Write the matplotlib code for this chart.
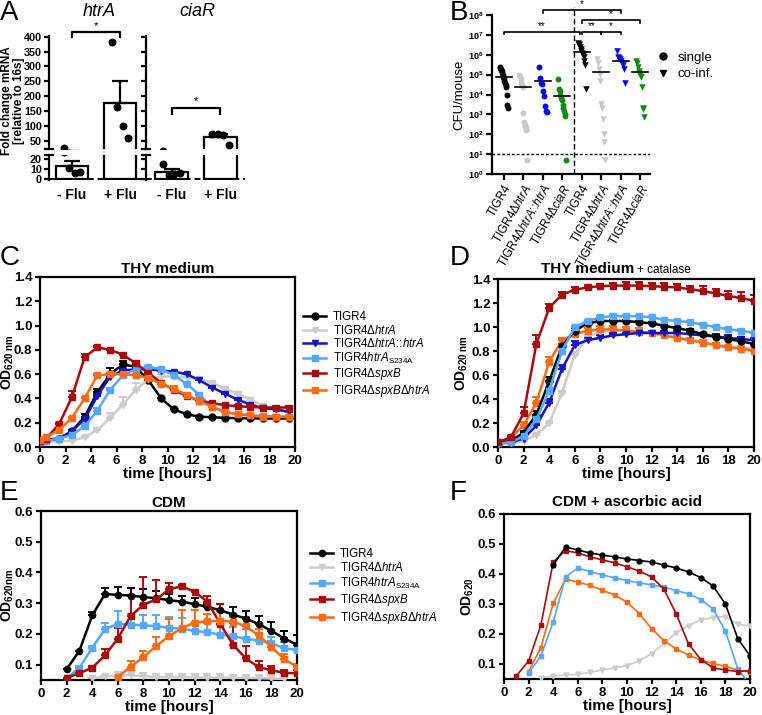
import numpy as np
import matplotlib
matplotlib.use('Agg')
import matplotlib.pyplot as plt
from matplotlib.lines import Line2D

plt.rcParams['font.family'] = ['Liberation Sans', 'DejaVu Sans']
plt.rcParams['mathtext.fontset'] = 'custom'
plt.rcParams['mathtext.rm'] = 'Liberation Sans'
plt.rcParams['mathtext.it'] = 'Liberation Sans:italic'
plt.rcParams['mathtext.bf'] = 'Liberation Sans:bold'

# ---------------- data ----------------
# panel A: fold change mRNA
a_groups = ['- Flu', '+ Flu']
htra_points = [[27, 11, 6, 7], [383, 165, 101, 60]]
htra_mean = [12.75, 177]
htra_sem = [4.8, 73]
ciar_points = [[15, 4, 5, 6], [74, 73, 70, 36]]
ciar_mean = [7.5, 63]
ciar_sem = [2.5, 9]

# panel B: CFU/mouse
b_labels = ['TIGR4', 'TIGR4Δ$\\it{htrA}$', 'TIGR4Δ$\\it{htrA}$::$\\it{htrA}$', 'TIGR4Δ$\\it{ciaR}$',
            'TIGR4', 'TIGR4Δ$\\it{htrA}$', 'TIGR4Δ$\\it{htrA}$::$\\it{htrA}$', 'TIGR4Δ$\\it{ciaR}$']
b_single_tigr4 = [2.5e5, 2.2e5, 2e5, 1.8e5, 1.5e5, 1.2e5, 1e5, 8e4, 6e4, 5e4, 4e4, 3e4, 2.5e4, 1e4, 3e3, 2e3]
b_single_htra = [1e5, 9e4, 6e4, 4e4, 3e4, 2.5e4, 1.2e3, 4e2, 3e2, 2.5e2, 2e2, 1.7e2, 5]
b_single_comp = [2.5e5, 7e4, 4e4, 3.5e4, 1.5e4, 8e3, 2.5e3, 1.5e3, 1.3e3]
b_single_ciar = [6e4, 2e4, 1.5e4, 1e4, 7e3, 5e3, 3e3, 2e3, 1.5e3, 1e3, 8e2, 5]
b_coinf_tigr4 = [4e6, 3.5e6, 3e6, 2.5e6, 2e6, 1.5e6, 1.2e6, 1e6, 8e5, 5e5, 3e5, 2e4]
b_coinf_htra = [6e5, 4e5, 2e5, 1e5, 5e4, 3.5e3, 2e3, 6e2, 1e2, 4e1, 5]
b_coinf_comp = [1.5e6, 8e5, 7e5, 6e5, 5e5, 4e5, 3e5, 2e5, 4e4]
b_coinf_ciar = [5e5, 4e5, 2.5e5, 1.5e5, 1.2e5, 1e5, 8e4, 2.5e4, 2e3, 1.8e3, 7e2]
b_medians = [7.3e4, 2.3e4, 4.6e4, 8.7e3, 1.3e6, 1.4e5, 4.8e5, 1.3e5]
b_detection = 10
b_sig = [(0, 3.9, 10**7.15, '**'), (4, 5, 10**7.15, '**'), (5, 6, 10**7.15, '*'),
         (4, 7, 10**7.73, '*'), (2, 6, 10**8.23, '*')]

# strain names
n_tigr4 = 'TIGR4'
n_htra = 'TIGR4Δ$\\it{htrA}$'
n_comp = 'TIGR4Δ$\\it{htrA}$::$\\it{htrA}$'
n_s234a = 'TIGR4$\\it{htrA}$$_{\\rm S234A}$'
n_spxb = 'TIGR4Δ$\\it{spxB}$'
n_spxb_htra = 'TIGR4Δ$\\it{spxB}$Δ$\\it{htrA}$'

# panel C: THY medium
c_time = [0, 0.5, 1.5, 2.5, 3.5, 4.5, 5.5, 6.5, 7.5, 8.5, 9.5, 10.5, 11.5, 12.5, 13.5, 14.5, 15.5, 16.5, 17.5, 18.5, 19.5]
c_tigr4 = [0.05, 0.06, 0.07, 0.13, 0.25, 0.45, 0.60, 0.68, 0.66, 0.55, 0.40, 0.31, 0.27, 0.25, 0.245, 0.24, 0.237, 0.236, 0.235, 0.235, 0.235]
c_tigr4_err = [0, 0, 0, 0.01, 0.02, 0.03, 0.05, 0.03, 0.02, 0.01, 0, 0, 0, 0, 0, 0, 0, 0, 0, 0, 0]
c_htra = [0.04, 0.04, 0.05, 0.05, 0.08, 0.14, 0.24, 0.35, 0.47, 0.56, 0.58, 0.58, 0.57, 0.56, 0.53, 0.48, 0.44, 0.39, 0.34, 0.31, 0.29]
c_htra_err = [0, 0, 0, 0, 0.01, 0.02, 0.04, 0.06, 0.06, 0.03, 0.02, 0.01, 0.01, 0.01, 0.01, 0.01, 0.01, 0.01, 0.01, 0.01, 0.01]
c_comp = [0.03, 0.05, 0.07, 0.13, 0.23, 0.42, 0.58, 0.63, 0.64, 0.64, 0.63, 0.62, 0.60, 0.55, 0.49, 0.44, 0.39, 0.35, 0.32, 0.31, 0.29]
c_comp_err = [0, 0, 0, 0.01, 0.01, 0.02, 0.02, 0.01, 0.01, 0.01, 0.01, 0.01, 0.01, 0.01, 0.01, 0.01, 0.01, 0.01, 0.01, 0.01, 0.01]
c_s234a = [0.04, 0.05, 0.07, 0.10, 0.17, 0.30, 0.47, 0.59, 0.64, 0.66, 0.64, 0.59, 0.52, 0.43, 0.33, 0.29, 0.27, 0.26, 0.255, 0.25, 0.25]
c_s234a_err = [0, 0, 0, 0.01, 0.01, 0.02, 0.02, 0.02, 0.01, 0.01, 0.01, 0.01, 0.01, 0.01, 0.01, 0.01, 0.01, 0.01, 0.01, 0.01, 0.01]
c_spxb = [0.05, 0.07, 0.19, 0.41, 0.74, 0.82, 0.80, 0.76, 0.69, 0.61, 0.53, 0.47, 0.42, 0.38, 0.36, 0.345, 0.335, 0.33, 0.325, 0.325, 0.325]
c_spxb_err = [0, 0, 0.01, 0.05, 0.03, 0.01, 0.01, 0.01, 0.01, 0.01, 0.01, 0.01, 0.01, 0.01, 0.01, 0.01, 0.01, 0.01, 0.01, 0.01, 0.01]
c_spxb_htra = [0.06, 0.08, 0.14, 0.24, 0.40, 0.59, 0.60, 0.60, 0.59, 0.57, 0.52, 0.48, 0.43, 0.38, 0.33, 0.29, 0.27, 0.26, 0.25, 0.25, 0.245]
c_spxb_htra_err = [0, 0, 0, 0.01, 0.01, 0.01, 0.01, 0.01, 0.01, 0.01, 0.01, 0.02, 0.01, 0.01, 0.01, 0.01, 0.01, 0.01, 0.01, 0.01, 0.01]

# panel D: THY medium + catalase
d_time = list(range(21))
d_tigr4 = [0.03, 0.05, 0.12, 0.27, 0.55, 0.84, 0.97, 1.03, 1.05, 1.05, 1.05, 1.04, 1.03, 1.01, 0.99, 0.97, 0.94, 0.92, 0.90, 0.88, 0.86]
d_tigr4_err = [0, 0.01, 0.01, 0.03, 0.03, 0.02, 0.02, 0.01, 0.01, 0.01, 0.01, 0.01, 0.01, 0.01, 0.01, 0.01, 0.01, 0.01, 0.01, 0.01, 0.01]
d_htra = [0.02, 0.03, 0.05, 0.10, 0.20, 0.45, 0.77, 0.92, 0.96, 0.97, 0.97, 0.96, 0.95, 0.93, 0.91, 0.89, 0.87, 0.85, 0.84, 0.83, 0.82]
d_htra_err = [0, 0, 0, 0.01, 0.01, 0.02, 0.02, 0.01, 0.01, 0.01, 0.01, 0.01, 0.01, 0.01, 0.01, 0.01, 0.01, 0.01, 0.01, 0.01, 0.01]
d_comp = [0.03, 0.04, 0.07, 0.18, 0.37, 0.65, 0.85, 0.89, 0.91, 0.93, 0.94, 0.95, 0.95, 0.95, 0.95, 0.94, 0.93, 0.92, 0.91, 0.90, 0.89]
d_comp_err = [0, 0, 0.01, 0.02, 0.03, 0.03, 0.03, 0.02, 0.02, 0.02, 0.02, 0.02, 0.02, 0.02, 0.02, 0.02, 0.02, 0.02, 0.02, 0.02, 0.02]
d_s234a = [0.03, 0.04, 0.09, 0.23, 0.47, 0.80, 1.00, 1.05, 1.08, 1.09, 1.09, 1.09, 1.08, 1.06, 1.05, 1.04, 1.02, 1.00, 0.98, 0.97, 0.95]
d_s234a_err = [0, 0, 0.01, 0.02, 0.03, 0.03, 0.01, 0.01, 0.01, 0.01, 0.01, 0.01, 0.01, 0.01, 0.01, 0.01, 0.01, 0.01, 0.01, 0.01, 0.01]
d_spxb = [0.04, 0.08, 0.28, 0.86, 1.16, 1.27, 1.31, 1.33, 1.34, 1.345, 1.345, 1.345, 1.34, 1.335, 1.33, 1.315, 1.30, 1.28, 1.26, 1.24, 1.22]
d_spxb_err = [0, 0.01, 0.05, 0.07, 0.03, 0.02, 0.02, 0.02, 0.02, 0.02, 0.03, 0.03, 0.03, 0.03, 0.03, 0.03, 0.04, 0.04, 0.04, 0.05, 0.05]
d_spxb_htra = [0.04, 0.08, 0.18, 0.37, 0.71, 0.89, 0.94, 0.97, 0.98, 0.98, 0.97, 0.96, 0.95, 0.93, 0.91, 0.89, 0.87, 0.85, 0.83, 0.82, 0.80]
d_spxb_htra_err = [0, 0.01, 0.03, 0.05, 0.04, 0.02, 0.02, 0.02, 0.03, 0.03, 0.03, 0.03, 0.02, 0.02, 0.02, 0.02, 0.02, 0.02, 0.02, 0.02, 0.02]

# panel E: CDM
e_time = list(range(2, 21))
e_tigr4 = [0.085, 0.145, 0.26, 0.33, 0.327, 0.325, 0.32, 0.316, 0.31, 0.305, 0.297, 0.288, 0.277, 0.263, 0.25, 0.232, 0.21, 0.185, 0.165]
e_tigr4_err = [0, 0, 0.01, 0.02, 0.025, 0.025, 0.025, 0.025, 0.02, 0.02, 0.02, 0.01, 0.02, 0.025, 0.025, 0.025, 0.03, 0.025, 0.03]
e_htra_time = list(range(4, 20))
e_htra = [0.055, 0.062, 0.065, 0.065, 0.062, 0.06, 0.06, 0.06, 0.059, 0.058, 0.058, 0.057, 0.057, 0.056, 0.055, 0.053]
e_htra_err = [0, 0.005, 0.01, 0.01, 0.01, 0.01, 0.01, 0.01, 0.01, 0.01, 0.01, 0.01, 0.01, 0.01, 0.01, 0.005]
e_s234a = [0.055, 0.09, 0.155, 0.215, 0.233, 0.23, 0.228, 0.225, 0.22, 0.217, 0.21, 0.205, 0.198, 0.192, 0.185, 0.178, 0.17, 0.153, 0.148]
e_s234a_err = [0, 0.005, 0.005, 0.02, 0.04, 0.035, 0.035, 0.035, 0.035, 0.035, 0.03, 0.03, 0.03, 0.03, 0.03, 0.02, 0.02, 0.02, 0.02]
e_spxb = [0.057, 0.072, 0.09, 0.13, 0.185, 0.258, 0.295, 0.312, 0.345, 0.355, 0.337, 0.305, 0.233, 0.165, 0.12, 0.092, 0.082, 0.073, 0.072]
e_spxb_err = [0, 0.005, 0.005, 0.02, 0.035, 0.07, 0.09, 0.065, 0.02, 0.005, 0.005, 0.02, 0.065, 0.07, 0.04, 0.02, 0.015, 0.01, 0.01]
e_spxb_htra_time = list(range(6, 21))
e_spxb_htra = [0.06, 0.093, 0.125, 0.16, 0.193, 0.218, 0.237, 0.241, 0.243, 0.24, 0.225, 0.195, 0.158, 0.118, 0.093]
e_spxb_htra_err = [0, 0.02, 0.02, 0.03, 0.055, 0.06, 0.04, 0.025, 0.03, 0.015, 0.03, 0.02, 0.02, 0.015, 0.01]

# panel F: CDM + ascorbic acid
f_tigr4_time = list(range(4, 21))
f_tigr4 = [0.43, 0.49, 0.48, 0.47, 0.463, 0.457, 0.45, 0.445, 0.44, 0.43, 0.42, 0.407, 0.388, 0.36, 0.30, 0.185, 0.127]
f_htra_time = list(range(3, 21))
f_htra = [0.055, 0.06, 0.063, 0.066, 0.072, 0.08, 0.087, 0.095, 0.11, 0.135, 0.168, 0.205, 0.228, 0.247, 0.255, 0.258, 0.232, 0.227]
f_s234a_time = list(range(2, 21))
f_s234a = [0.07, 0.127, 0.24, 0.39, 0.42, 0.408, 0.397, 0.387, 0.378, 0.37, 0.364, 0.356, 0.345, 0.334, 0.315, 0.283, 0.21, 0.085, 0.03]
f_spxb_time = list(range(1, 21))
f_spxb = [0.06, 0.11, 0.23, 0.44, 0.478, 0.47, 0.457, 0.447, 0.437, 0.424, 0.41, 0.39, 0.35, 0.267, 0.167, 0.115, 0.087, 0.08, 0.075, 0.078]
f_spxb_htra_time = list(range(2, 21))
f_spxb_htra = [0.075, 0.155, 0.302, 0.383, 0.373, 0.362, 0.346, 0.33, 0.306, 0.268, 0.218, 0.178, 0.15, 0.13, 0.113, 0.102, 0.092, 0.08, 0.072]

# colours
BLACK = '#000000'
GREY = '#cccccc'
BLUE = '#1414c8'
LBLUE = '#55a8ff'
RED = '#a50d0d'
ORANGE = '#ff6a14'
B_COLORS = ['#000000', '#c8c8c8', '#0000ff', '#128a12']

W, H = 762, 715
fig = plt.figure(figsize=(W / 100, H / 100), dpi=100)


def box(x0, y0, x1, y1):
    return fig.add_axes([x0 / W, 1 - y1 / H, (x1 - x0) / W, (y1 - y0) / H])


def fx(x):
    return x / W


def fy(y):
    return 1 - y / H


def bold_ticks(ax, size=9.5):
    for lab in ax.get_xticklabels() + ax.get_yticklabels():
        lab.set_fontweight('bold')
        lab.set_fontsize(size)


def letter(x, y, s):
    fig.text(fx(x), fy(y), s, fontsize=20, ha='left', va='center')


# ---------------- panel A ----------------
letter(0, 13, 'A')


def a_panel(x0, x1, points, means, sems, show_labels, title, xlim, sig_y):
    up = box(x0, 36, x1, 149)
    lo = box(x0, 155, x1, 180)
    for ax in (up, lo):
        for s in ('top', 'right', 'bottom'):
            ax.spines[s].set_visible(False)
        ax.spines['left'].set_linewidth(1.6)
        ax.tick_params(axis='y', width=1.6, length=3.5, pad=1.5)
        ax.tick_params(axis='x', length=0)
        ax.set_xlim(*xlim)
        ax.bar([0, 1], means, width=0.67, color='white', edgecolor='black', linewidth=1.6)
        ax.errorbar([0, 1], means, yerr=[[0, 0], sems], fmt='none', ecolor='black',
                    elinewidth=1.6, capsize=6, capthick=1.6)
        for i, pts in enumerate(points):
            xs = i + np.linspace(-0.17, 0.17, len(pts))
            ax.scatter(xs, pts, s=22, color='black', zorder=3, clip_on=True)
    up.set_ylim(23, 402)
    up.set_yticks(np.arange(50, 401, 50))
    up.set_xticks([])
    lo.set_ylim(-1, 24)
    lo.set_yticks([0, 10, 20])
    lo.plot(xlim, [0, 0], ls=(0, (3, 2)), color='black', lw=1.4, clip_on=False)
    lo.set_xticks([0, 1])
    lo.set_xticklabels(a_groups)
    lo.tick_params(axis='x', pad=6)
    if show_labels:
        bold_ticks(up, 7.8)
        bold_ticks(lo, 7.8)
    else:
        up.set_yticklabels([])
        lo.set_yticklabels([])
    for lab in lo.get_xticklabels():
        lab.set_fontsize(10)
        lab.set_fontweight('bold')
    # axis break caps
    up.plot([-0.04, 0.04], [0, 0], transform=up.transAxes, color='black', lw=1.6, clip_on=False)
    lo.plot([-0.04, 0.04], [1, 1], transform=lo.transAxes, color='black', lw=1.6, clip_on=False)
    # significance bracket
    y1, y0 = sig_y
    up.plot([0, 0, 1, 1], [y0, y1, y1, y0], color='black', lw=1.6, clip_on=False)
    up.text(0.5, y1 + 5, '*', ha='center', va='bottom', fontsize=8)
    fig.text(fx((x0 + x1) / 2 + 2), fy(12), title, style='italic', fontsize=13,
             ha='center', va='center')
    return up, lo


a_panel(49, 146, htra_points, htra_mean, htra_sem, True, 'htrA', (-0.48, 1.54), (415, 398))
a_panel(146, 245, ciar_points, ciar_mean, ciar_sem, False, 'ciaR', (-0.53, 1.51), (162, 140))
fig.text(fx(13), fy(101), 'Fold change mRNA\n[relative to 16s]', rotation=90,
         fontsize=8.5, fontweight='bold', ha='center', va='center', linespacing=1.0)

# ---------------- panel B ----------------
letter(450, 13, 'B')
axb = box(492, 15, 650, 174)
axb.set_yscale('log')
axb.set_ylim(1, 1e8)
axb.set_xlim(-0.6, 7.5)
for s in ('top', 'right'):
    axb.spines[s].set_visible(False)
for s in ('left', 'bottom'):
    axb.spines[s].set_linewidth(1.6)
axb.tick_params(width=1.6, length=4, pad=2)
axb.tick_params(axis='y', which='minor', length=0)
axb.set_yticks([10.0 ** i for i in range(9)])
axb.set_yticklabels([r'$\mathbf{10^{%d}}$' % i for i in range(9)], fontsize=6.5)
axb.set_xticks(range(8))
axb.set_xticklabels(b_labels, rotation=60, ha='right', rotation_mode='anchor', fontsize=8.5)
axb.set_ylabel('CFU/mouse', fontsize=9.5, va='center')
axb.yaxis.set_label_coords(fx(459), fy(95), transform=fig.transFigure)

b_single = [b_single_tigr4, b_single_htra, b_single_comp, b_single_ciar]
b_coinf = [b_coinf_tigr4, b_coinf_htra, b_coinf_comp, b_coinf_ciar]
for i in range(4):
    pts = b_single[i]
    axb.scatter(i + np.linspace(-0.2, 0.2, len(pts)), pts, s=18, marker='o',
                color=B_COLORS[i], zorder=3, linewidths=0)
    pts = b_coinf[i]
    axb.scatter(4 + i + np.linspace(-0.2, 0.2, len(pts)), pts, s=22, marker='v',
                color=B_COLORS[i], zorder=3, linewidths=0)
for i, m in enumerate(b_medians):
    axb.plot([i - 0.4, i + 0.4], [m, m], color='black', lw=1.2, zorder=4)
axb.axhline(b_detection, color='black', ls=(0, (2, 1.5)), lw=1)
axb.axvline(3.6, color='black', ls=(0, (4, 2)), lw=1, ymax=1.05, clip_on=False)
for xa, xb, yv, star in b_sig:
    leg = yv / 10 ** 0.12
    axb.plot([xa, xa, xb, xb], [leg, yv, yv, leg], color='black', lw=1.2, clip_on=False)
    axb.text((xa + xb) / 2, yv * 10 ** 0.05, star, ha='center', va='bottom', fontsize=7)
axb.legend(handles=[Line2D([], [], marker='o', color='black', ls='none', markersize=5),
                    Line2D([], [], marker='v', color='black', ls='none', markersize=5)],
           labels=['single', 'co-inf.'], loc='upper left', bbox_to_anchor=(fx(645), fy(40)),
           bbox_transform=fig.transFigure, frameon=False, fontsize=9.5,
           handletextpad=0.6, labelspacing=0.3, handlelength=1)


# ---------------- growth curves ----------------
def growth_axes(x0, y0, x1, y1, ylim, yticks, ylabel, ylab_x):
    ax = box(x0, y0, x1, y1)
    ax.set_xlim(0, 20)
    ax.set_ylim(*ylim)
    ax.set_xticks(range(0, 21, 2))
    ax.set_yticks(yticks)
    ax.set_yticklabels(['%.1f' % v for v in yticks])
    for s in ax.spines.values():
        s.set_linewidth(1.6)
    ax.tick_params(width=1.6, length=3.5, pad=2)
    bold_ticks(ax, 9.5)
    ax.set_xlabel('time [hours]', fontsize=11, fontweight='bold', va='center')
    ax.xaxis.set_label_coords((fx(x0) + fx(x1)) / 2, fy(y1 + 27), transform=fig.transFigure)
    ax.set_ylabel(ylabel, fontsize=10, va='center')
    ax.yaxis.set_label_coords(fx(ylab_x), (fy(y0) + fy(y1)) / 2, transform=fig.transFigure)
    return ax


def curve(ax, t, y, err, color, marker, label, ms=5, lw=1.8):
    ax.plot(t, y, color=color, marker=marker, ms=ms, lw=lw, label=label, zorder=3)
    if err is not None:
        ax.errorbar(t, y, yerr=[np.zeros(len(err)), err], fmt='none', ecolor=color,
                    elinewidth=1.4, capsize=3, capthick=1.4, zorder=2)


legend_kw = dict(bbox_transform=fig.transFigure, frameon=False, fontsize=8.3, handlelength=2,
                 handletextpad=0.6, borderpad=0, borderaxespad=0, loc='upper left')

# panel C
letter(0, 258, 'C')
axc = growth_axes(40, 277, 295, 447, (0, 1.4), np.arange(0, 1.41, 0.2),
                  r'$\mathbf{OD_{620\ nm}}$', 8)
axc.set_title('THY medium', fontsize=11, fontweight='bold', pad=3)
curve(axc, c_time, c_tigr4, c_tigr4_err, BLACK, 'o', n_tigr4)
curve(axc, c_time, c_htra, c_htra_err, GREY, 'v', n_htra)
curve(axc, c_time, c_comp, c_comp_err, BLUE, 'v', n_comp)
curve(axc, c_time, c_s234a, c_s234a_err, LBLUE, 's', n_s234a)
curve(axc, c_time, c_spxb, c_spxb_err, RED, 's', n_spxb)
curve(axc, c_time, c_spxb_htra, c_spxb_htra_err, ORANGE, 's', n_spxb_htra)
axc.legend(bbox_to_anchor=(fx(303), fy(311)), labelspacing=0.05, **legend_kw)

# panel D
letter(450, 258, 'D')
axd = growth_axes(498, 279, 754, 447, (0, 1.4), np.arange(0, 1.41, 0.2),
                  r'$\mathbf{OD_{620\ nm}}$', 462)
fig.text(fx(634), fy(269), 'THY medium', fontsize=11, fontweight='bold', ha='right', va='center')
fig.text(fx(637), fy(270), '+ catalase', fontsize=8.5, ha='left', va='center')
curve(axd, d_time, d_htra, d_htra_err, GREY, 'v', n_htra)
curve(axd, d_time, d_spxb_htra, d_spxb_htra_err, ORANGE, 's', n_spxb_htra)
curve(axd, d_time, d_comp, d_comp_err, BLUE, 'v', n_comp)
curve(axd, d_time, d_tigr4, d_tigr4_err, BLACK, 'o', n_tigr4)
curve(axd, d_time, d_s234a, d_s234a_err, LBLUE, 's', n_s234a)
curve(axd, d_time, d_spxb, d_spxb_err, RED, 's', n_spxb)

# panel E
letter(0, 493, 'E')
axe = growth_axes(41, 511, 297, 680, (0.05, 0.6), np.arange(0.1, 0.61, 0.1),
                  r'$\mathbf{OD_{620nm}}$', 8)
axe.set_title('CDM', fontsize=11, fontweight='bold', pad=3)
curve(axe, e_time, e_tigr4, e_tigr4_err, BLACK, 'o', n_tigr4, ms=4.5)
curve(axe, e_htra_time, e_htra, e_htra_err, GREY, 'v', n_htra, ms=4.5)
curve(axe, e_time, e_s234a, e_s234a_err, LBLUE, 's', n_s234a, ms=4.5)
curve(axe, e_time, e_spxb, e_spxb_err, RED, 's', n_spxb, ms=4.5)
curve(axe, e_spxb_htra_time, e_spxb_htra, e_spxb_htra_err, ORANGE, 's', n_spxb_htra, ms=4.5)
axe.legend(bbox_to_anchor=(fx(310), fy(548)), labelspacing=0.12, **legend_kw)

# panel F
letter(450, 493, 'F')
axf = growth_axes(504, 514, 750, 679, (0.05, 0.6), np.arange(0.1, 0.61, 0.1),
                  r'$\mathbf{OD_{620}}$', 468)
axf.set_title('CDM + ascorbic acid', fontsize=11, fontweight='bold', pad=6)
curve(axf, f_htra_time, f_htra, None, GREY, 'v', n_htra, ms=3.5, lw=1.2)
curve(axf, f_spxb_htra_time, f_spxb_htra, None, ORANGE, 's', n_spxb_htra, ms=3.5, lw=1.2)
curve(axf, f_s234a_time, f_s234a, None, LBLUE, 's', n_s234a, ms=3.5, lw=1.2)
curve(axf, f_spxb_time, f_spxb, None, RED, 's', n_spxb, ms=3.5, lw=1.2)
curve(axf, f_tigr4_time, f_tigr4, None, BLACK, 'o', n_tigr4, ms=3.5, lw=1.2)

fig.savefig('out.png', dpi=100)
